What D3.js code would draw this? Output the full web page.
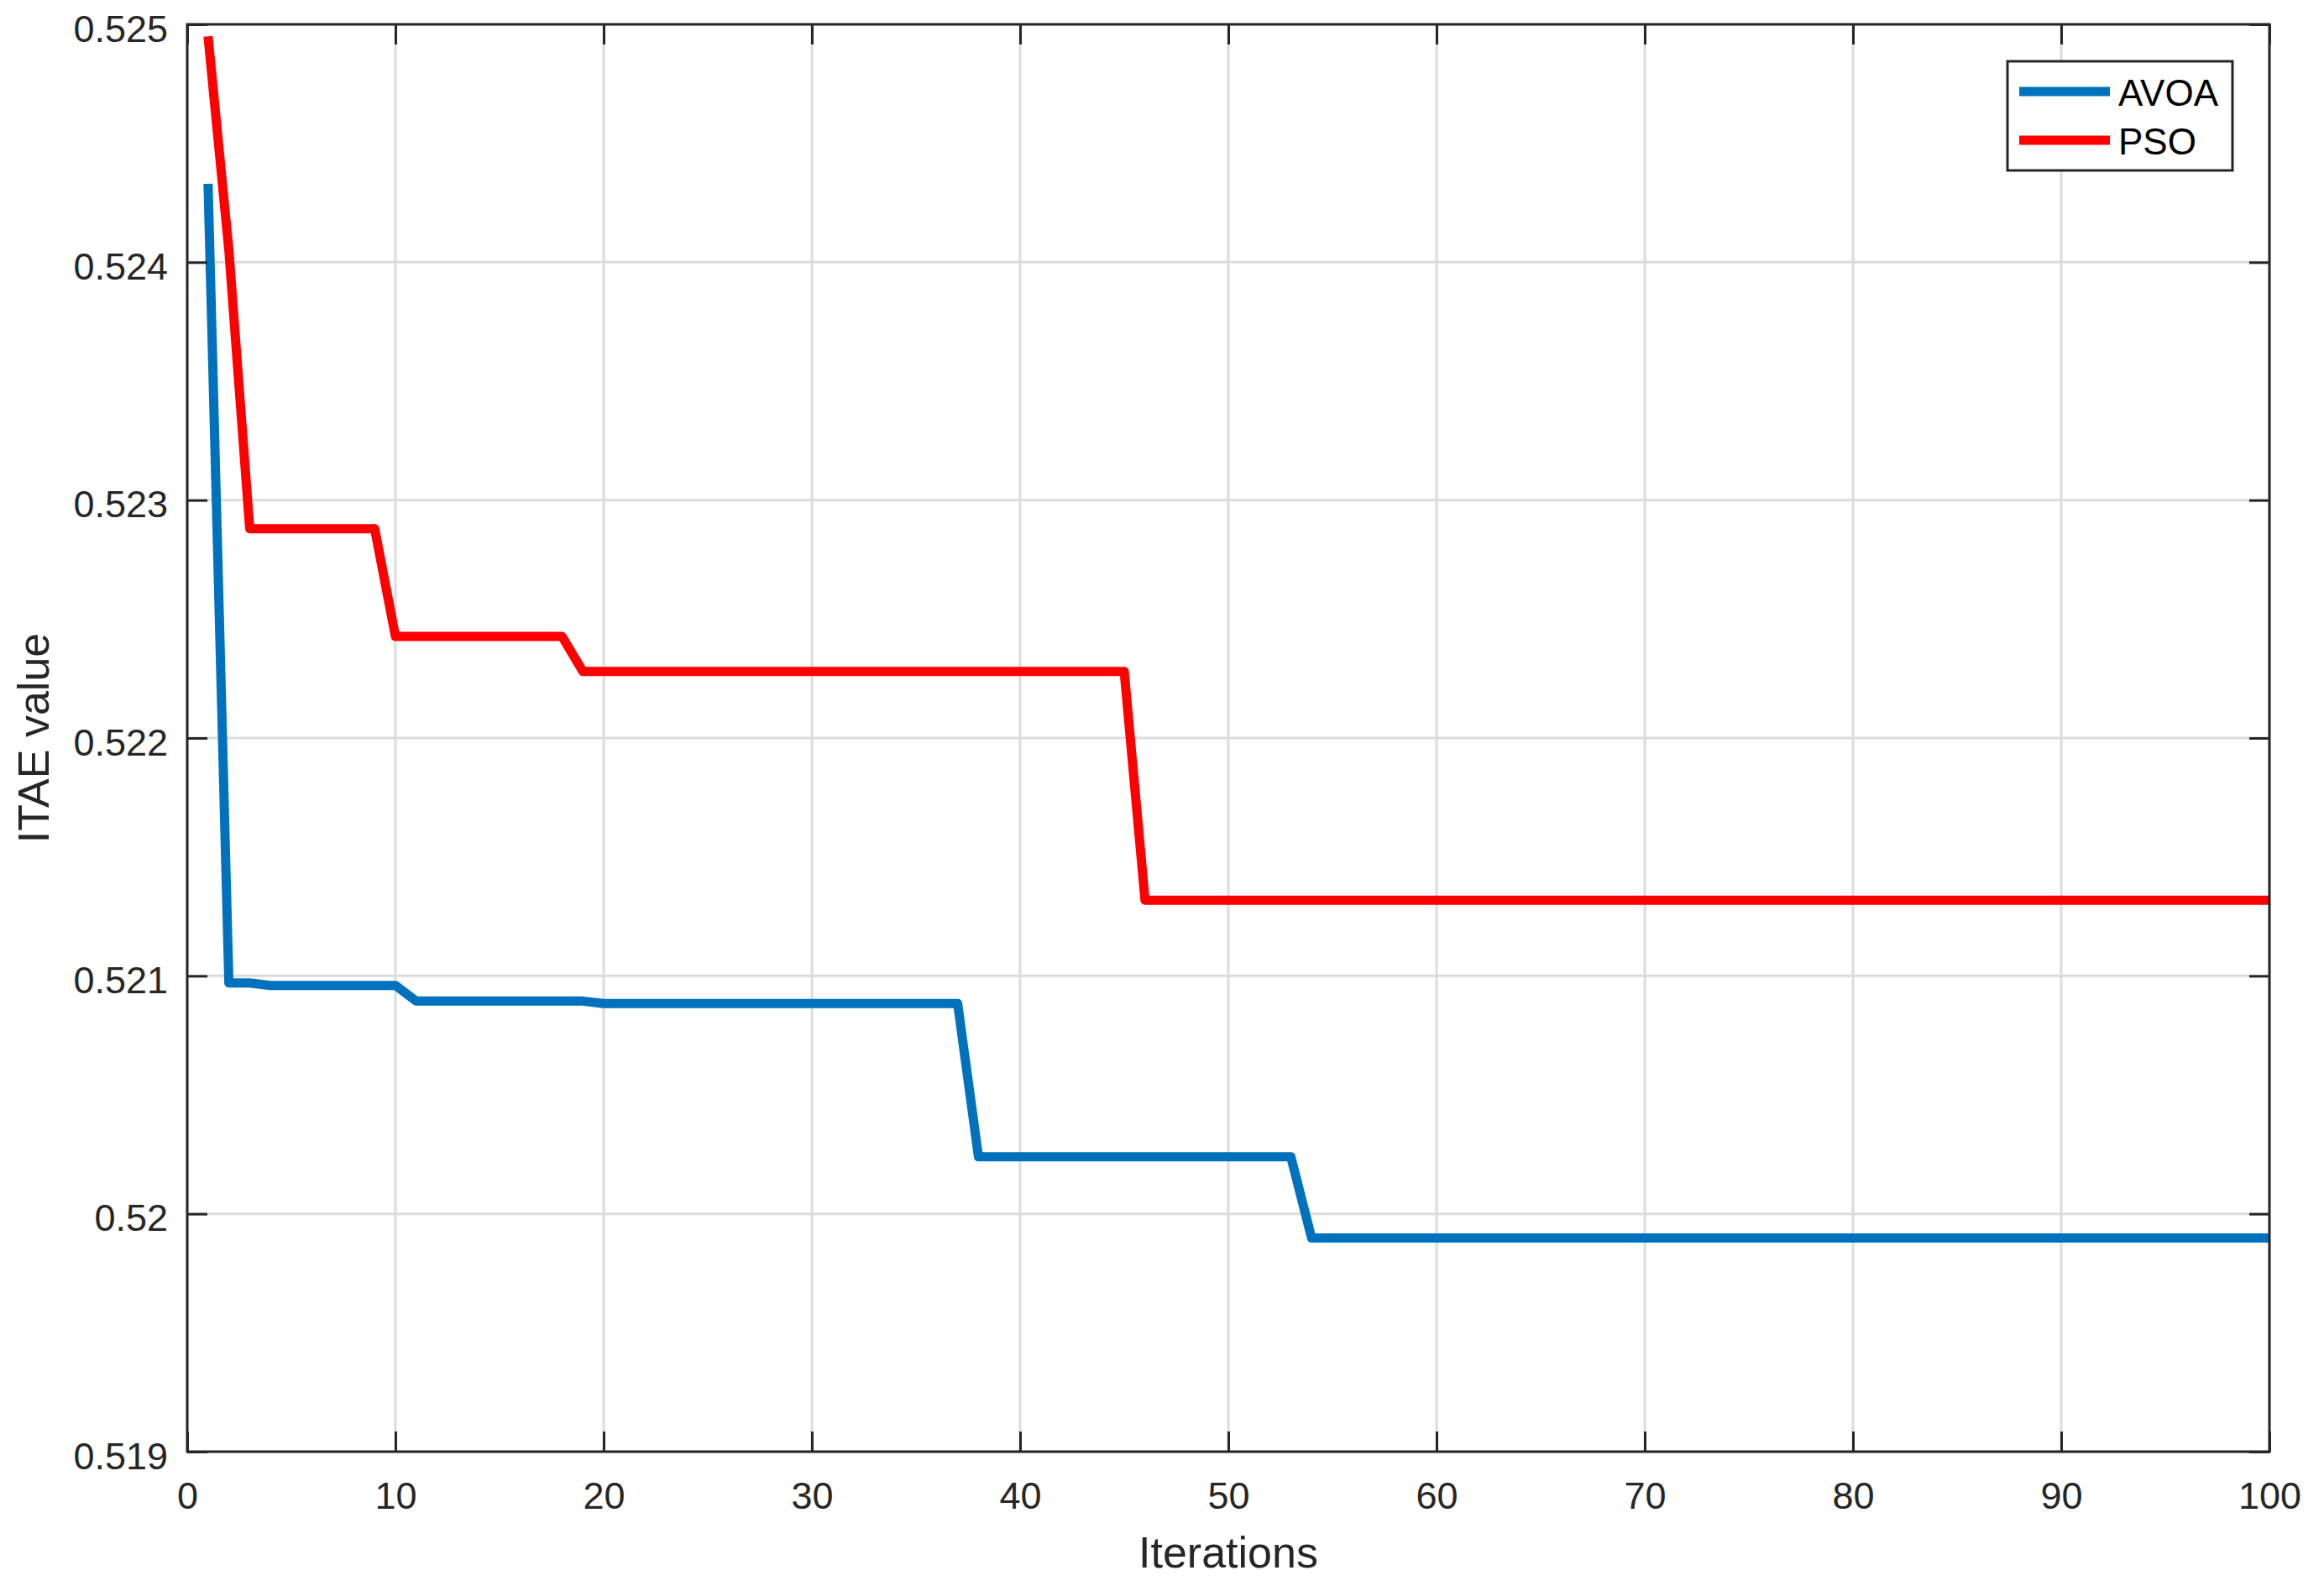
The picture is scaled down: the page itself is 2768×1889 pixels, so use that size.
<!DOCTYPE html>
<html>
<head>
<meta charset="utf-8">
<script src="https://cdn.jsdelivr.net/npm/d3@7"></script>
<style>
  body { margin: 0; background: #ffffff; }
  svg { display: block; }
</style>
</head>
<body>
<div id="chart"></div>
<script>
// iterations where the curve changes value (curve is flat in between)
var avoaIter = [1, 2, 3, 4, 10, 11, 19, 20, 37, 38, 53, 54, 100];
var avoaValues = [0.52433, 0.52097, 0.52097, 0.52096, 0.52096, 0.520894, 0.520894, 0.520884, 0.520884, 0.52024, 0.52024, 0.519898, 0.519898];

var psoIter = [1, 2, 3, 9, 10, 18, 19, 45, 46, 100];
var psoValues = [0.52495, 0.52405, 0.52288, 0.52288, 0.522427, 0.522427, 0.52228, 0.52228, 0.521318, 0.521318];

var seriesNames = ["AVOA", "PSO"];
var seriesColors = ["#0072BD", "#FF0000"];

var xTicks = [0, 10, 20, 30, 40, 50, 60, 70, 80, 90, 100];
var xTickLabels = ["0", "10", "20", "30", "40", "50", "60", "70", "80", "90", "100"];
var yTicks = [0.519, 0.520, 0.521, 0.522, 0.523, 0.524, 0.525];
var yTickLabels = ["0.519", "0.52", "0.521", "0.522", "0.523", "0.524", "0.525"];

var W = 2768, H = 1889;
var margin = {top: 29, right: 65, bottom: 160, left: 223};
var width = W - margin.left - margin.right;
var height = H - margin.top - margin.bottom;
var axisColor = "#262626";
var fontFam = "'Liberation Sans', Arial, Helvetica, sans-serif";
var tickLen = 24;
var lineW = 11;

const svg = d3.select("#chart")
  .append("svg")
  .attr("width", W)
  .attr("height", H);

const g = svg.append("g")
  .attr("transform", "translate(" + margin.left + "," + margin.top + ")");

const x = d3.scaleLinear().domain([0, 100]).range([0, width]);
const y = d3.scaleLinear().domain([0.519, 0.525]).range([height, 0]);

// grid
g.append("g").selectAll("line")
  .data(xTicks)
  .join("line")
  .attr("x1", d => x(d)).attr("x2", d => x(d))
  .attr("y1", 0).attr("y2", height)
  .attr("stroke", "#dcdcdc")
  .attr("stroke-width", 3);

g.append("g").selectAll("line")
  .data(yTicks)
  .join("line")
  .attr("x1", 0).attr("x2", width)
  .attr("y1", d => y(d)).attr("y2", d => y(d))
  .attr("stroke", "#dcdcdc")
  .attr("stroke-width", 3);

// data lines
var series = [
  {name: seriesNames[0], xs: avoaIter, ys: avoaValues, color: seriesColors[0]},
  {name: seriesNames[1], xs: psoIter, ys: psoValues, color: seriesColors[1]}
];

const line = d3.line()
  .x(d => x(d[0]))
  .y(d => y(d[1]));

g.append("g").selectAll("path")
  .data(series)
  .join("path")
  .attr("d", s => line(s.xs.map((v, i) => [v, s.ys[i]])))
  .attr("fill", "none")
  .attr("stroke", s => s.color)
  .attr("stroke-width", lineW)
  .attr("stroke-linejoin", "round");

// axes: bottom/left with labels, top/right ticks only (box on, ticks inside)
const xAxisB = d3.axisBottom(x).tickValues(xTicks)
  .tickFormat((d, i) => xTickLabels[i]).tickSize(-tickLen).tickPadding(36);
const xAxisT = d3.axisTop(x).tickValues(xTicks).tickFormat("").tickSize(-tickLen);
const yAxisL = d3.axisLeft(y).tickValues(yTicks)
  .tickFormat((d, i) => yTickLabels[i]).tickSize(-tickLen).tickPadding(23);
const yAxisR = d3.axisRight(y).tickValues(yTicks).tickFormat("").tickSize(-tickLen);

function styleAxis(sel) {
  sel.select(".domain").remove();
  sel.selectAll(".tick line").attr("stroke", axisColor).attr("stroke-width", 3);
  sel.selectAll(".tick text")
    .attr("fill", axisColor)
    .style("font-family", fontFam)
    .style("font-size", "45px");
}

g.append("g").attr("transform", "translate(0," + height + ")").call(xAxisB).call(styleAxis);
g.append("g").call(xAxisT).call(styleAxis);
g.append("g").call(yAxisL).call(styleAxis)
  .selectAll(".tick text").attr("dy", "0.45em");
g.append("g").attr("transform", "translate(" + width + ",0)").call(yAxisR).call(styleAxis);

// box
g.append("rect")
  .attr("x", 0).attr("y", 0)
  .attr("width", width).attr("height", height)
  .attr("fill", "none")
  .attr("stroke", axisColor)
  .attr("stroke-width", 3);

// axis titles
svg.append("text")
  .attr("x", margin.left + width / 2)
  .attr("y", 1867)
  .attr("text-anchor", "middle")
  .attr("fill", axisColor)
  .style("font-family", fontFam)
  .style("font-size", "52px")
  .text("Iterations");

svg.append("text")
  .attr("transform", "translate(58," + (margin.top + height / 2) + ") rotate(-90)")
  .attr("text-anchor", "middle")
  .attr("fill", axisColor)
  .style("font-family", fontFam)
  .style("font-size", "52px")
  .text("ITAE value");

// legend
const legend = svg.append("g").attr("transform", "translate(2391,73)");
legend.append("rect")
  .attr("width", 268).attr("height", 130)
  .attr("fill", "#ffffff")
  .attr("stroke", axisColor)
  .attr("stroke-width", 3);

legend.selectAll("line")
  .data(series)
  .join("line")
  .attr("x1", 14).attr("x2", 122)
  .attr("y1", (d, i) => 36 + i * 58).attr("y2", (d, i) => 36 + i * 58)
  .attr("stroke", d => d.color)
  .attr("stroke-width", lineW);

legend.selectAll("text")
  .data(series)
  .join("text")
  .attr("x", 132)
  .attr("y", (d, i) => 53 + i * 58)
  .attr("fill", "#000000")
  .style("font-family", fontFam)
  .style("font-size", "44px")
  .text(d => d.name);
</script>
</body>
</html>
